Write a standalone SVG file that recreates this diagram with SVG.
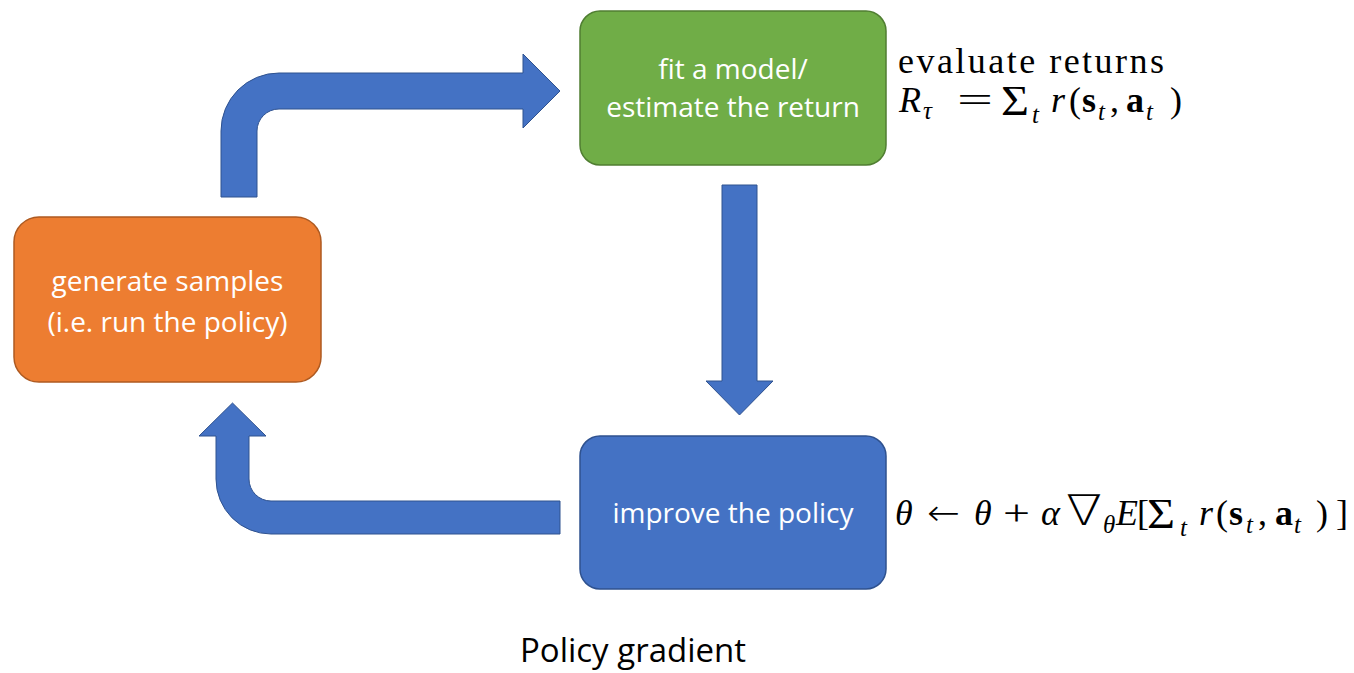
<svg xmlns="http://www.w3.org/2000/svg" width="1354" height="673" viewBox="0 0 1354 673">
  <style>
    .box-text { font-family: "Open Sans", "Liberation Sans", sans-serif; font-size: 28px; fill: #ffffff; text-anchor: middle; }
    .caption { font-family: "Open Sans", "Liberation Sans", sans-serif; font-size: 33px; fill: #000000; text-anchor: middle; }
    .math { font-family: "Liberation Serif", "DejaVu Serif", serif; font-size: 36px; fill: #000000; }
    .sum { font-family: "Liberation Serif", "DejaVu Serif", serif; font-size: 42px; }
    .thin { font-family: "DejaVu Sans", "Liberation Sans", sans-serif; font-weight: 200; }
    .it { font-style: italic; }
    .bf { font-weight: bold; }
    .sub { font-size: 25px; font-style: italic; }
    .arrow { fill: #4472C4; stroke: #2F528F; stroke-width: 1; }
  </style>

  <rect width="1354" height="673" fill="#ffffff"/>

  <!-- connectors: block arrows between the stages -->
  <g id="connectors">
    <path class="arrow" d="M 221 197 L 221 131 A 58 58 0 0 1 279 73 L 523 73 L 523 54 L 560 91 L 523 128 L 523 109 L 279 109 A 22 22 0 0 0 257 131 L 257 197 Z"/>
    <path class="arrow" d="M 722 185 L 757 185 L 757 381 L 773 381 L 739.5 415 L 706 381 L 722 381 Z"/>
    <path class="arrow" d="M 560 501 L 271 501 A 22 22 0 0 1 249 479 L 249 436 L 266 436 L 232.5 403 L 199 436 L 216 436 L 216 479 A 55 55 0 0 0 271 534 L 560 534 Z"/>
  </g>

  <g id="node-generate">
    <rect x="14" y="217" width="307" height="165" rx="25" ry="25" fill="#ED7D31" stroke="#AE5A21" stroke-width="1.5"/>
    <text class="box-text" x="167.5" y="291">generate samples</text>
    <text class="box-text" x="167.5" y="332">(i.e. run the policy)</text>
  </g>

  <g id="node-fit">
    <rect x="580" y="11" width="306" height="154" rx="20" ry="20" fill="#70AD47" stroke="#507E32" stroke-width="1.5"/>
    <text class="box-text" x="733" y="79">fit a model/</text>
    <text class="box-text" x="733" y="117">estimate the return</text>
  </g>

  <g id="node-improve">
    <rect x="580" y="436" width="306" height="153" rx="20" ry="20" fill="#4472C4" stroke="#2F528F" stroke-width="1.5"/>
    <text class="box-text" x="733" y="523">improve the policy</text>
  </g>

  <!-- annotation next to the fitting stage -->
  <g id="label-returns" class="math">
    <text x="898" y="73" textLength="266" lengthAdjust="spacing">evaluate returns</text>
    <text class="it" x="899" y="112">R</text>
    <text class="sub" x="923" y="119">τ</text>
    <text x="957" y="112" textLength="36" lengthAdjust="spacingAndGlyphs">=</text>
    <text class="sum" x="1001" y="115" textLength="28" lengthAdjust="spacingAndGlyphs">Σ</text>
    <text class="sub" x="1032" y="123">t</text>
    <text y="112">
      <tspan class="it" x="1051">r</tspan>
      <tspan x="1069">(</tspan>
      <tspan class="bf" x="1082">s</tspan>
      <tspan class="sub" x="1098" y="120">t</tspan>
      <tspan x="1110" y="112">,</tspan>
      <tspan class="bf" x="1126">a</tspan>
      <tspan class="sub" x="1146" y="120">t</tspan>
      <tspan x="1170" y="112">)</tspan>
    </text>
  </g>

  <!-- annotation next to the policy update stage -->
  <g id="label-update" class="math">
    <text class="it" x="895" y="525">θ</text>
    <text class="thin" x="927" y="525" textLength="33" lengthAdjust="spacingAndGlyphs">←</text>
    <text class="it" x="974" y="525">θ</text>
    <text x="1003" y="525" textLength="27" lengthAdjust="spacingAndGlyphs">+</text>
    <text class="it" x="1041" y="525">α</text>
    <text class="thin" x="1066" y="525" font-size="42" textLength="36" lengthAdjust="spacingAndGlyphs">∇</text>
    <text class="sub" x="1103" y="533">θ</text>
    <text class="it" x="1116" y="525">E</text>
    <text x="1137" y="525">[</text>
    <text class="sum" x="1147" y="528" textLength="28" lengthAdjust="spacingAndGlyphs">Σ</text>
    <text class="sub" x="1180" y="536">t</text>
    <text y="525">
      <tspan class="it" x="1199">r</tspan>
      <tspan x="1216">(</tspan>
      <tspan class="bf" x="1229">s</tspan>
      <tspan class="sub" x="1246" y="533">t</tspan>
      <tspan x="1258" y="525">,</tspan>
      <tspan class="bf" x="1275">a</tspan>
      <tspan class="sub" x="1294" y="533">t</tspan>
      <tspan x="1316" y="525">)</tspan>
      <tspan x="1336">]</tspan>
    </text>
  </g>

  <g id="caption">
    <text class="caption" x="633" y="662">Policy gradient</text>
  </g>
</svg>
